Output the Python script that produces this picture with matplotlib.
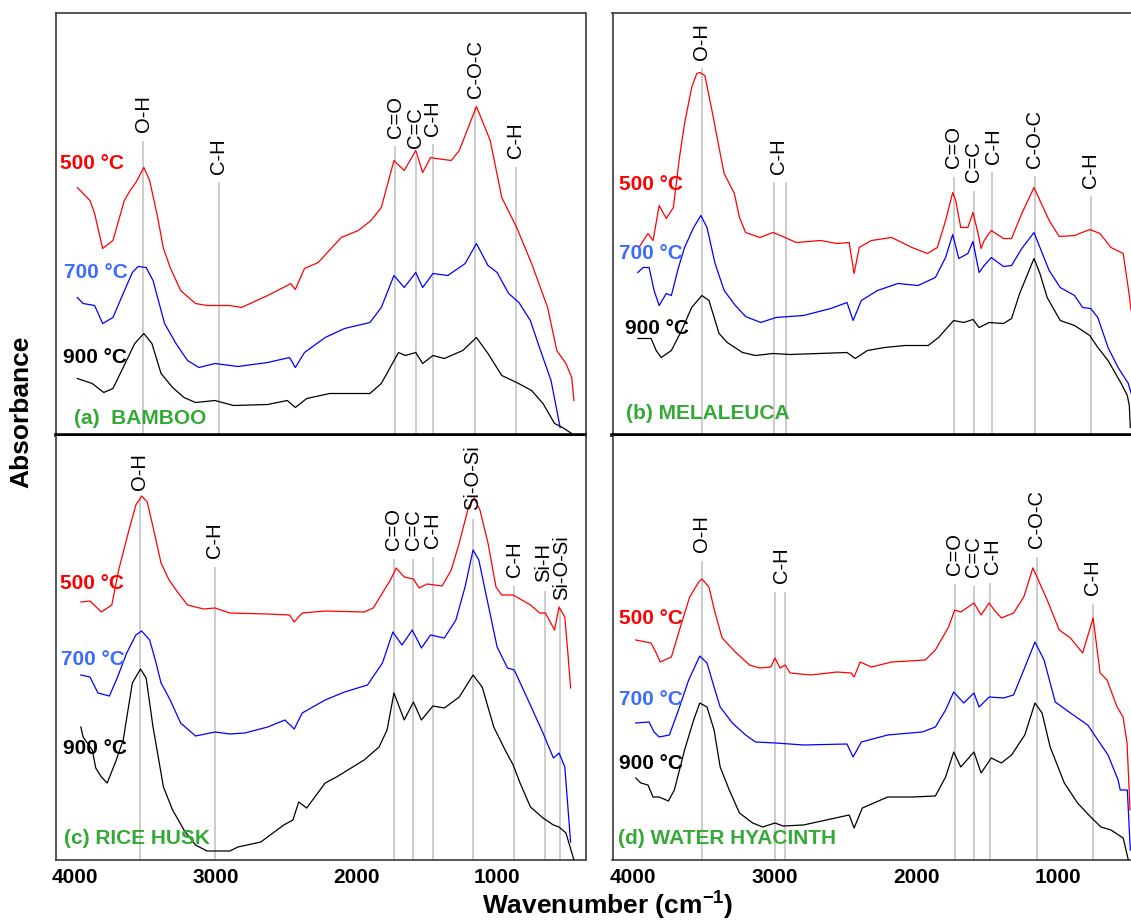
import matplotlib
matplotlib.use("Agg")
import matplotlib.pyplot as plt
from matplotlib.transforms import blended_transform_factory

plt.rcParams['font.family'] = ['Liberation Sans', 'DejaVu Sans']
plt.rcParams['mathtext.fontset'] = 'custom'
plt.rcParams['mathtext.rm'] = 'Liberation Sans'
plt.rcParams['mathtext.bf'] = 'Liberation Sans:bold'

# ---------------- data (wavenumber in cm-1, absorbance in arbitrary units) ----------------
# (a) bamboo
BAMBOO_500_WN = [3984, 3894, 3861, 3804, 3731, 3650, 3609, 3568, 3511, 3470, 3413, 3372, 3324, 3250, 3144, 3063,
                 2900, 2818, 2631, 2492, 2468, 2435, 2370, 2272, 2109, 1987, 1897, 1824, 1734, 1661, 1579, 1530,
                 1474, 1433, 1327, 1270, 1148, 1050, 968, 862, 756, 642, 577, 512, 471, 455]
BAMBOO_500_A = [248, 235, 222, 187, 195, 235, 245, 253, 268, 255, 218, 187, 168, 145, 132, 130,
                130, 128, 140, 150, 152, 146, 167, 173, 198, 205, 215, 228, 275, 265, 285, 263,
                278, 277, 275, 285, 329, 295, 238, 208, 172, 128, 85, 72, 58, 35]
BAMBOO_700_WN = [3984, 3943, 3861, 3804, 3731, 3658, 3593, 3552, 3495, 3446, 3364, 3283, 3201, 3120, 3006, 2843,
                 2631, 2476, 2435, 2370, 2223, 2085, 1905, 1824, 1734, 1661, 1579, 1530, 1457, 1351, 1228, 1148,
                 1066, 1001, 919, 846, 765, 700, 618, 553]
BAMBOO_700_A = [138, 132, 130, 112, 118, 142, 163, 169, 168, 155, 112, 92, 75, 68, 72, 69,
                73, 78, 68, 83, 98, 107, 113, 128, 160, 148, 163, 148, 162, 160, 172, 192,
                170, 163, 142, 133, 115, 88, 55, 8]
BAMBOO_900_WN = [3984, 3878, 3796, 3731, 3658, 3576, 3511, 3454, 3389, 3307, 3226, 3144, 3006, 2875, 2631, 2492,
                 2435, 2354, 2191, 1905, 1824, 1702, 1653, 1579, 1530, 1457, 1376, 1245, 1148, 1066, 968, 862,
                 756, 675, 593, 536, 471]
BAMBOO_900_A = [57, 52, 43, 47, 68, 92, 102, 92, 62, 48, 38, 33, 35, 30, 31, 35,
                28, 37, 42, 42, 52, 83, 80, 83, 72, 80, 77, 85, 98, 82, 60, 53,
                45, 32, 12, 8, 2]

# (b) melaleuca
MELALEUCA_500_WN = [3957, 3893, 3857, 3814, 3764, 3714, 3671, 3635, 3585, 3549, 3528, 3492, 3442, 3392, 3356, 3284,
                    3248, 3205, 3105, 3012, 2926, 2848, 2676, 2561, 2475, 2440, 2404, 2318, 2175, 2032, 1924, 1853,
                    1795, 1745, 1724, 1688, 1638, 1602, 1566, 1545, 1523, 1473, 1387, 1330, 1258, 1172, 1130, 1065,
                    994, 886, 779, 707, 629, 543, 500, 487]
MELALEUCA_500_A = [188, 202, 195, 230, 217, 228, 278, 312, 348, 362, 363, 360, 325, 288, 262, 242,
                   218, 203, 198, 203, 198, 193, 195, 192, 193, 162, 188, 195, 198, 188, 182, 188,
                   215, 243, 235, 208, 208, 223, 202, 187, 195, 205, 197, 197, 222, 248, 235, 215,
                   199, 200, 206, 202, 188, 182, 140, 125]
MELALEUCA_700_WN = [3964, 3928, 3885, 3850, 3814, 3764, 3728, 3678, 3635, 3571, 3520, 3477, 3420, 3356, 3277, 3205,
                    3098, 2991, 2797, 2604, 2490, 2447, 2389, 2275, 2132, 1989, 1867, 1795, 1745, 1702, 1638, 1602,
                    1559, 1523, 1473, 1387, 1330, 1258, 1172, 1130, 1065, 987, 886, 829, 772, 722, 650, 579,
                    507, 487]
MELALEUCA_700_A = [163, 168, 168, 145, 130, 142, 140, 168, 188, 208, 220, 208, 172, 145, 130, 119,
                   113, 118, 120, 127, 133, 115, 135, 145, 152, 150, 158, 178, 201, 177, 182, 194,
                   163, 170, 178, 169, 170, 187, 203, 188, 165, 148, 140, 128, 127, 118, 88, 68,
                   52, 42]
MELALEUCA_900_WN = [3964, 3871, 3835, 3800, 3728, 3656, 3585, 3513, 3463, 3392, 3334, 3227, 3134, 3012, 2891, 2490,
                    2432, 2346, 2225, 2082, 1917, 1845, 1738, 1667, 1602, 1559, 1488, 1387, 1330, 1273, 1172, 1130,
                    1079, 987, 886, 779, 722, 650, 557, 514, 500, 493]
MELALEUCA_900_A = [97, 97, 85, 78, 85, 105, 128, 140, 135, 102, 93, 83, 80, 82, 81, 83,
                   77, 85, 88, 90, 90, 98, 115, 113, 116, 108, 113, 112, 117, 142, 177, 162,
                   138, 115, 110, 100, 88, 75, 52, 40, 30, 8]

# (c) rice husk
RICEHUSK_500_WN = [3959, 3894, 3813, 3739, 3690, 3617, 3568, 3527, 3487, 3446, 3389, 3332, 3267, 3201, 3087, 3006,
                   2900, 2631, 2476, 2443, 2386, 2223, 1946, 1881, 1816, 1759, 1718, 1661, 1596, 1555, 1498, 1392,
                   1327, 1270, 1204, 1164, 1123, 1066, 1009, 968, 887, 764, 699, 658, 593, 561, 520, 496, 479]
RICEHUSK_500_A = [258, 259, 248, 255, 290, 330, 355, 364, 358, 333, 297, 280, 267, 255, 251, 252,
                  247, 246, 245, 238, 247, 249, 248, 252, 267, 280, 292, 283, 281, 272, 276, 274,
                  290, 317, 353, 362, 350, 317, 273, 265, 265, 255, 247, 247, 230, 253, 243, 203, 172]
RICEHUSK_700_WN = [3959, 3894, 3837, 3756, 3698, 3633, 3568, 3527, 3470, 3430, 3389, 3324, 3250, 3144, 3006, 2900,
                   2794, 2631, 2509, 2443, 2386, 2223, 2085, 1922, 1816, 1742, 1677, 1604, 1539, 1474, 1376, 1294,
                   1229, 1172, 1131, 1082, 1001, 927, 879, 781, 675, 601, 561, 520, 479]
RICEHUSK_700_A = [185, 183, 167, 164, 183, 207, 225, 229, 220, 200, 177, 160, 137, 124, 128, 126,
                  127, 133, 140, 131, 147, 160, 168, 175, 197, 228, 215, 230, 212, 225, 222, 240,
                  273, 310, 300, 267, 213, 192, 190, 160, 127, 102, 107, 93, 18]
RICEHUSK_900_WN = [3959, 3943, 3878, 3853, 3813, 3772, 3715, 3658, 3593, 3535, 3495, 3446, 3372, 3307, 3226, 3144,
                   3063, 2900, 2843, 2680, 2517, 2452, 2411, 2354, 2223, 2142, 1946, 1840, 1783, 1734, 1661, 1596,
                   1539, 1457, 1376, 1270, 1172, 1107, 1025, 944, 887, 838, 764, 675, 601, 561, 512, 455]
RICEHUSK_900_A = [133, 123, 110, 92, 83, 77, 97, 120, 177, 191, 182, 133, 73, 50, 30, 15,
                  9, 9, 13, 18, 35, 40, 58, 52, 77, 83, 100, 113, 130, 167, 140, 158,
                  140, 154, 152, 163, 185, 173, 133, 110, 95, 77, 53, 42, 35, 33, 27, 0]

# (d) water hyacinth
HYACINTH_500_WN = [3979, 3871, 3835, 3807, 3728, 3671, 3599, 3535, 3513, 3463, 3420, 3370, 3277, 3177, 3105, 3027,
                   2998, 2962, 2926, 2891, 2747, 2561, 2461, 2440, 2397, 2318, 2175, 1939, 1867, 1774, 1731, 1688,
                   1595, 1545, 1488, 1452, 1402, 1316, 1244, 1180, 1151, 1079, 994, 915, 829, 755, 706, 657,
                   586, 544, 516, 495]
HYACINTH_500_A = [220, 217, 207, 198, 203, 230, 263, 278, 281, 273, 247, 222, 208, 195, 192, 193,
                  202, 192, 195, 187, 185, 188, 187, 183, 198, 193, 198, 200, 210, 233, 250, 248,
                  257, 245, 257, 250, 242, 247, 263, 292, 283, 260, 230, 222, 207, 242, 187, 180,
                  153, 143, 117, 50]
HYACINTH_700_WN = [3979, 3885, 3850, 3814, 3742, 3678, 3606, 3528, 3477, 3427, 3384, 3298, 3205, 3134, 2991, 2797,
                   2490, 2447, 2389, 2203, 1960, 1867, 1795, 1738, 1667, 1595, 1559, 1488, 1387, 1316, 1244, 1165,
                   1101, 1022, 915, 793, 722, 650, 579, 564, 514, 493]
HYACINTH_700_A = [137, 138, 128, 123, 125, 150, 180, 204, 197, 173, 153, 137, 125, 118, 117, 115,
                  116, 103, 118, 125, 128, 133, 150, 168, 157, 167, 153, 163, 162, 165, 190, 218,
                  200, 158, 147, 135, 120, 105, 80, 70, 70, 10]
HYACINTH_900_WN = [3979, 3943, 3893, 3857, 3814, 3749, 3707, 3635, 3571, 3528, 3477, 3427, 3384, 3320, 3248, 3155,
                   3084, 2998, 2941, 2797, 2604, 2475, 2440, 2382, 2203, 2032, 1867, 1795, 1738, 1688, 1595, 1545,
                   1473, 1402, 1330, 1237, 1165, 1115, 1058, 958, 865, 772, 700, 629, 543, 507]
HYACINTH_900_A = [82, 77, 75, 63, 63, 59, 70, 110, 140, 157, 153, 130, 93, 70, 47, 37,
                  33, 37, 34, 35, 41, 45, 32, 52, 63, 63, 64, 83, 108, 93, 108, 87,
                  102, 97, 105, 125, 157, 147, 113, 77, 57, 43, 33, 30, 22, 0]

# band assignments: marker-line wavenumbers, label and label wavenumber
BAMBOO_BANDS = [([3515], 'O-H', 3515), ([2980], 'C-H', 2980), ([1726], 'C=O', 1726), ([1579], 'C=C', 1579),
                ([1457], 'C-H', 1457), ([1155], 'C-O-C', 1155), ([870], 'C-H', 870)]
MELALEUCA_BANDS = [([3513], 'O-H', 3513), ([3005, 2919], 'C-H', 2976), ([1738], 'C=O', 1738),
                   ([1595], 'C=C', 1595), ([1466], 'C-H', 1460), ([1165], 'C-O-C', 1165), ([772], 'C-H', 772)]
RICEHUSK_BANDS = [([3540], 'O-H', 3540), ([3006], 'C-H', 3006), ([1734], 'C=O', 1734), ([1596], 'C=C', 1596),
                  ([1457], 'C-H', 1457), ([1172], 'Si-O-Si', 1172), ([879], 'C-H', 879), ([658], 'Si-H', 668),
                  ([553], 'Si-O-Si', 540)]
HYACINTH_BANDS = [([3513], 'O-H', 3513), ([2998, 2926], 'C-H', 2955), ([1731], 'C=O', 1735),
                  ([1595], 'C=C', 1597), ([1480], 'C-H', 1466), ([1151], 'C-O-C', 1151), ([757], 'C-H', 757)]

TEMPS = ['500 °C', '700 °C', '900 °C']

# ---------------- layout / style ----------------
W, H = 1131, 921
fig = plt.figure(figsize=(W / 100, H / 100), dpi=100)


def px_axes(x0, y0, x1, y1):
    return fig.add_axes([x0 / W, 1 - y1 / H, (x1 - x0) / W, (y1 - y0) / H])


LINE_COLORS = ['#ff0000', '#0000ff', '#000000']
TEMP_COLORS = ['#ff0000', '#3b6cff', '#000000']
GREEN = '#35a935'

panels = [
    dict(box=(55.5, 13, 585.5, 435.5), xlim=(4139, 373), ytop=422.5,
         series=[(BAMBOO_500_WN, BAMBOO_500_A), (BAMBOO_700_WN, BAMBOO_700_A), (BAMBOO_900_WN, BAMBOO_900_A)],
         bands=BAMBOO_BANDS, label_y=[303, 262, 298, 287, 300, 337, 277],
         temp_pos=[(5, 272), (8.5, 163), (7.5, 78)], name='(a)  BAMBOO', name_pos=(18, 17), bottom=False),
    dict(box=(612.5, 13, 1133, 435.5), xlim=(4143, 474), ytop=422.5,
         series=[(MELALEUCA_500_WN, MELALEUCA_500_A), (MELALEUCA_700_WN, MELALEUCA_700_A),
                 (MELALEUCA_900_WN, MELALEUCA_900_A)],
         bands=MELALEUCA_BANDS, label_y=[376, 262, 267, 253, 272, 268, 248],
         temp_pos=[(6.5, 251), (6.5, 182), (12.5, 107)], name='(b) MELALEUCA', name_pos=(13.5, 22),
         bottom=False),
    dict(box=(55.5, 435.5, 585.5, 860), xlim=(4139, 373), ytop=424.5,
         series=[(RICEHUSK_500_WN, RICEHUSK_500_A), (RICEHUSK_700_WN, RICEHUSK_700_A),
                 (RICEHUSK_900_WN, RICEHUSK_900_A)],
         bands=RICEHUSK_BANDS, label_y=[370, 302, 310, 310, 312, 350, 283, 278, 260],
         temp_pos=[(4.5, 277), (5.5, 201), (7.5, 112)], name='(c) RICE HUSK', name_pos=(8.5, 22), bottom=True),
    dict(box=(612.5, 435.5, 1133, 860), xlim=(4143, 474), ytop=424.5,
         series=[(HYACINTH_500_WN, HYACINTH_500_A), (HYACINTH_700_WN, HYACINTH_700_A),
                 (HYACINTH_900_WN, HYACINTH_900_A)],
         bands=HYACINTH_BANDS, label_y=[308, 277, 285, 283, 286, 312, 265],
         temp_pos=[(6.5, 242), (6.5, 161), (6.5, 97)], name='(d) WATER HYACINTH', name_pos=(5.5, 22),
         bottom=True),
]

for p in panels:
    x0, y0, x1, y1 = p['box']
    ax = px_axes(x0, y0, x1, y1)
    ax.set_xlim(*p['xlim'])
    ax.set_ylim(0, p['ytop'])
    width_px = x1 - x0
    trans = blended_transform_factory(ax.transAxes, ax.transData)

    # band marker lines and labels
    for (wns, lab, lab_wn), ly in zip(p['bands'], p['label_y']):
        for wn in wns:
            ax.plot([wn, wn], [0, ly - 9], color='#c8c8c8', lw=1.3, zorder=1, solid_capstyle='butt')
        ax.text(lab_wn, ly, lab, rotation=90, ha='center', va='bottom', fontsize=14.5, color='black', zorder=4)

    # spectra
    for (wn, a), c in zip(p['series'], LINE_COLORS):
        ax.plot(wn, a, color=c, lw=0.9, zorder=3)

    for t, c, (dx, ty) in zip(TEMPS, TEMP_COLORS, p['temp_pos']):
        ax.text(dx / width_px, ty, t, transform=trans, ha='left', va='center',
                fontsize=15, fontweight='bold', color=c, zorder=5)
    ax.text(p['name_pos'][0] / width_px, p['name_pos'][1], p['name'], transform=trans, ha='left',
            va='center', fontsize=15, fontweight='bold', color=GREEN, zorder=5)

    ax.set_yticks([])
    ax.set_xticks([4000, 3000, 2000, 1000])
    ax.tick_params(axis='x', length=0, pad=6)
    if p['bottom']:
        ax.set_xticklabels(['4000', '3000', '2000', '1000'], fontsize=15, fontweight='bold')
    else:
        ax.set_xticklabels([])
    for s in ax.spines.values():
        s.set_color('#3a3a3a')
        s.set_linewidth(1.2)
    if not p['bottom']:
        ax.spines['bottom'].set_color('black')
        ax.spines['bottom'].set_linewidth(2.6)
        ax.spines['bottom'].set_zorder(6)
    else:
        ax.spines['top'].set_visible(False)
    if x1 > W:
        ax.spines['right'].set_visible(False)

fig.text(608 / W, 1 - 905 / H, r'Wavenumber (cm$^{\mathbf{-1}}$)', ha='center', va='center',
         fontsize=19, fontweight='bold')
fig.text(21 / W, 1 - 412 / H, 'Absorbance', rotation=90, ha='center', va='center',
         fontsize=19, fontweight='bold')

fig.savefig('out.png', dpi=100)
